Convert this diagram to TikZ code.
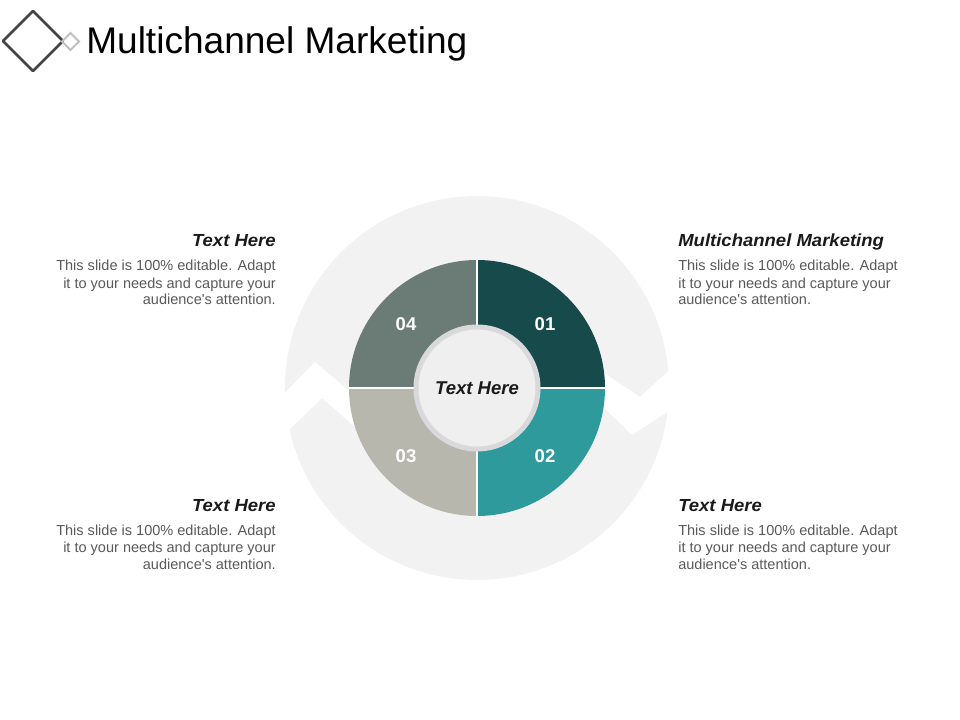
\documentclass[tikz,border=0pt]{standalone}
\usepackage{fontspec}
\setmainfont{Liberation Sans}
\newfontfamily\bodyfont{Liberation Sans}
\newfontfamily\headfont[FakeStretch=1.06]{Liberation Sans}
\usetikzlibrary{calc}
\definecolor{segA}{HTML}{174A4B}
\definecolor{segB}{HTML}{2F9A9C}
\definecolor{segC}{HTML}{B7B7AE}
\definecolor{segD}{HTML}{6A7C75}
\definecolor{diskc}{HTML}{F2F2F2}
\definecolor{hubfill}{HTML}{EFEFF0}
\definecolor{hubline}{HTML}{D9D9DB}
\definecolor{bodyc}{HTML}{595959}
\definecolor{headc}{HTML}{1A1A1A}
\definecolor{iconc}{HTML}{444444}
\definecolor{iconl}{HTML}{BFBFBF}
\tikzset{
  head/.style={font=\headfont\bfseries\itshape\fontsize{13.1}{15}\selectfont, text=headc, inner sep=0},
  body/.style={font=\bodyfont\fontsize{10.9}{12.75}\selectfont, text=bodyc, inner sep=0},
  num/.style={font=\bfseries\fontsize{13.9}{16}\selectfont, text=white, inner sep=0}
}
\begin{document}
\begin{tikzpicture}[x=0.75pt,y=-0.75pt]
\useasboundingbox (0,0) rectangle (960,720);
\coordinate (O) at (477,388);

% title and icon
\draw[iconc, line width=1.9pt, line join=round] (3,41)--(33,11)--(63,41)--(33,71)--cycle;
\draw[iconl, line width=1.5pt] (62,41.5)--(70.5,33)--(79,41.5)--(70.5,50)--cycle;
\node[anchor=base west, inner sep=0, font=\fontsize{27.8}{30}\selectfont] (title) at (86,54) {Multichannel Marketing};

% cycle arrows behind
\fill[diskc] (O) circle[radius=192];
\fill[white] (272,406)--(315,362)--(362,402)--(362,433)--(322,398)--(283,436)--cycle;
\fill[white] (592,365)--(640,397)--(675,365)--(675,407)--(632,435)--(592,396)--cycle;

% quadrants
\foreach \a/\c/\n/\dx/\dy in {270/segA/01/68/-64, 0/segB/02/68/68, 90/segC/03/-71/68, 180/segD/04/-71/-64}
{
  \fill[\c] (O) -- ++(\a:128) arc[start angle=\a, delta angle=90, radius=128] -- cycle;
  \node[num] (n\n) at ($(O)+(\dx,\dy)$) {\n};
}
\draw[white, line width=1.5pt] (O) ++(-128,0) -- ++(256,0);
\draw[white, line width=1.5pt] (O) ++(0,-128) -- ++(0,256);

\node[circle, draw=hubline, line width=3.75pt, fill=hubfill, minimum size=91.5pt, inner sep=0,
  font=\bfseries\itshape\fontsize{13.9}{16}\selectfont, text=headc] (hub) at (O) {Text Here};

% texts (base = last line)
\node[head, anchor=base east] (h4) at (276,247) {Text Here};
\node[body, anchor=base east, align=right] (t4) at (276,305) {This slide is 100\% editable.  Adapt\\it to your needs and capture your\\audience's attention.};
\node[head, anchor=base west] (h1) at (678,247) {Multichannel Marketing};
\node[body, anchor=base west, align=left] (t1) at (678,305) {This slide is 100\% editable.  Adapt\\it to your needs and capture your\\audience's attention.};
\node[head, anchor=base east] (h3) at (276,511) {Text Here};
\node[body, anchor=base east, align=right] (t3) at (276,569) {This slide is 100\% editable.  Adapt\\it to your needs and capture your\\audience's attention.};
\node[head, anchor=base west] (h2) at (678,511) {Text Here};
\node[body, anchor=base west, align=left] (t2) at (678,569) {This slide is 100\% editable.  Adapt\\it to your needs and capture your\\audience's attention.};
\end{tikzpicture}
\end{document}
